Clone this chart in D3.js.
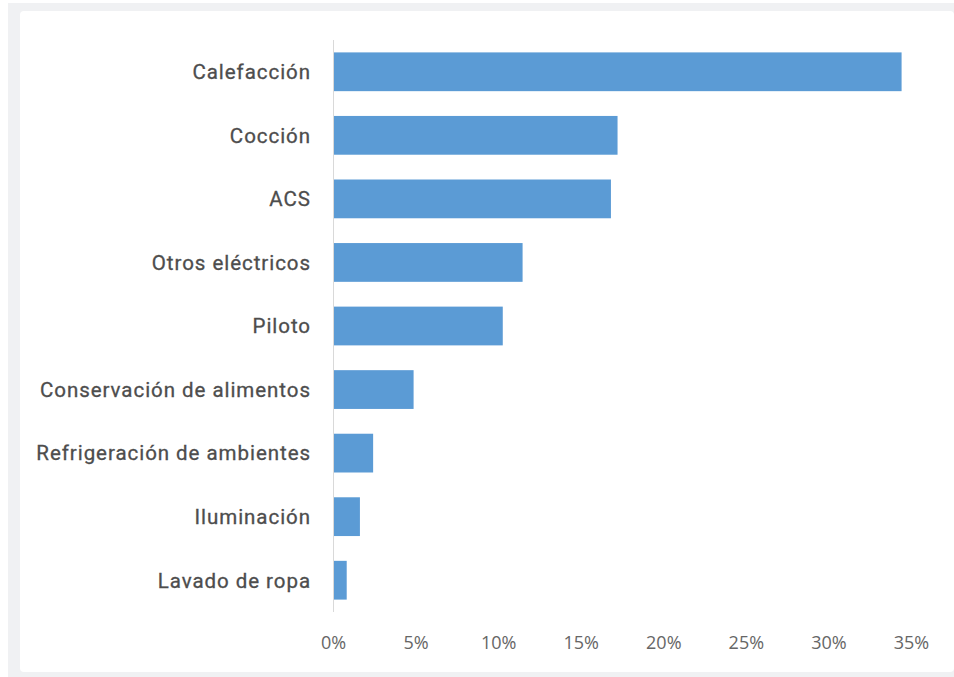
<html>
<head>
  <script src="https://cdn.jsdelivr.net/npm/d3@7/dist/d3.min.js"></script>
  <meta charset="UTF-8">
  <style>
  body { margin: 0; background: #fff; }
  </style>
</head>
<body>
<div id="chart"></div>
<script>

const categories = ['Calefacción', 'Cocción', 'ACS', 'Otros eléctricos', 'Piloto',
  'Conservación de alimentos', 'Refrigeración de ambientes', 'Iluminación', 'Lavado de ropa'];
const shares = [34.4, 17.2, 16.8, 11.45, 10.25, 4.85, 2.4, 1.6, 0.8];
const ticks = [0, 5, 10, 15, 20, 25, 30, 35];

const width = 954, height = 677;

const svg = d3.select('#chart').append('svg')
  .attr('width', width)
  .attr('height', height);

// grey frame and white panel
svg.append('rect')
  .attr('x', 8).attr('y', 3)
  .attr('width', width - 8).attr('height', height - 3)
  .attr('fill', '#f0f1f3');
svg.append('rect')
  .attr('x', 20).attr('y', 11)
  .attr('width', width - 20).attr('height', 661)
  .attr('rx', 4)
  .attr('fill', '#fff');

const x = d3.scaleLinear().domain([0, 35]).range([333.5, 911.5]);
const y = d3.scaleBand().domain(categories).range([40, 612])
  .paddingInner(0.39).paddingOuter(0.195);

svg.append('g').selectAll('rect')
  .data(categories)
  .join('rect')
    .attr('x', x(0))
    .attr('y', d => y(d))
    .attr('width', (d, i) => x(shares[i]) - x(0))
    .attr('height', y.bandwidth())
    .attr('fill', '#5b9bd5');

// vertical axis line
svg.append('line')
  .attr('x1', 333.5).attr('x2', 333.5)
  .attr('y1', 40).attr('y2', 612)
  .attr('stroke', '#d9d9d9')
  .attr('stroke-width', 1);

svg.append('g').selectAll('text')
  .data(categories)
  .join('text')
    .attr('x', 311)
    .attr('y', d => y(d) + y.bandwidth() / 2)
    .attr('dy', '0.36em')
    .attr('text-anchor', 'end')
    .attr('fill', '#4d4d4d')
    .attr('stroke', '#4d4d4d')
    .attr('stroke-width', 0.3)
    .style('font-family', 'Roboto, sans-serif')
    .style('letter-spacing', '0.95px')
    .style('font-size', '20.5px')
    .text(d => d);

svg.append('g').selectAll('text')
  .data(ticks)
  .join('text')
    .attr('x', d => x(d))
    .attr('y', 649)
    .attr('text-anchor', 'middle')
    .attr('fill', '#666')
    .style('font-family', '"Open Sans", sans-serif')
    .style('font-size', '18px')
    .text(d => d + '%');

</script>
</body>
</html>
